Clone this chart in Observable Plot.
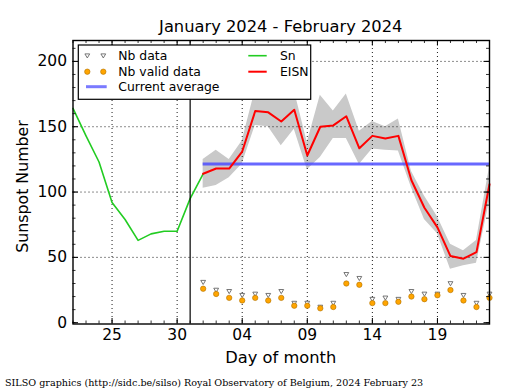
<!DOCTYPE html>
<html><head><meta charset="utf-8">
<script src="https://cdn.jsdelivr.net/npm/d3@7"></script>
<script src="https://cdn.jsdelivr.net/npm/@observablehq/plot@0.6"></script>
<style>html,body{margin:0;padding:0;background:#fff}</style>
</head><body><div id="chart"></div>
<script>
// ---- data ----
const snDates = ["2024-01-22","2024-01-23","2024-01-24","2024-01-25","2024-01-26","2024-01-27","2024-01-28","2024-01-29","2024-01-30","2024-01-31","2024-02-01"];
const snValues = [164,143,123,92,79,63,68,70,70,95,114];
const febDays = [1,2,3,4,5,6,7,8,9,10,11,12,13,14,15,16,17,18,19,20,21,22,23];
const eisnValues = [114,118,118,131,162,161,154,163,128,150,151,158,133.5,143,141,143,109,88,73,51,49,54,106];
const eisnUpper = [125,132,125,139,178,176,171,178,138,174,162,175,146.5,154,150,156,116,97,81,60,55,63,119];
const eisnLower = [103,105,111,121.5,151,150,135.5,148,117,126.5,141,141,121,133,132,131.5,103.5,79,68,41,43.5,45.5,93];
const nbData  = [31,25,24,21,22,21,24,15,15,12,15,37,34,18,19,18,24,22,22,30,21,15,22];
const nbValid = [26,22,19,17,19,17,19,13,13,11,12,30,29,15,15,16,20,18,21,25,17,12,19];
const currentAverage = 121.5;
const averageStart = "2024-02-01", averageEnd = "2024-02-23";
const separatorDate = "2024-01-31";
const xDomain = ["2024-01-22","2024-02-23"];
const xTickDates = ["2024-01-25","2024-01-30","2024-02-04","2024-02-09","2024-02-14","2024-02-19"];
const yTicks = [0,50,100,150,200];
const yGrid = [50,100,150,200];
const yDomain = [-1,216];

// ---- build ----
const parse = d3.utcParse("%Y-%m-%d");
const febDate = d => new Date(Date.UTC(2024,1,d));
const sn = snDates.map((d,i)=>({date:parse(d), v:snValues[i]}));
const eisn = febDays.map((d,i)=>({date:febDate(d), v:eisnValues[i], hi:eisnUpper[i], lo:eisnLower[i], nb:nbData[i], valid:nbValid[i]}));
const allDays = d3.utcDay.range(parse(xDomain[0]), d3.utcDay.offset(parse(xDomain[1]),1));
const minorY = d3.range(0, 216, 10);
const xt = xTickDates.map(parse);

const W=515, H=390, mL=72.5, mR=26, mT=40, mB=66.5;
const pw=W-mL-mR, ph=H-mT-mB;
const majorLen=5.5, minorLen=3;

const triDown = {draw(ctx, size){ const s=Math.sqrt(size)*0.62; ctx.moveTo(-s,-s*0.75); ctx.lineTo(s,-s*0.75); ctx.lineTo(0,s*0.95); ctx.closePath(); }};
const gridStyle = {stroke:"black", strokeOpacity:1, strokeWidth:0.9, strokeDasharray:"1,3"};

const plot = Plot.plot({
  width:W, height:H, marginLeft:mL, marginRight:mR, marginTop:mT, marginBottom:mB,
  style:{fontFamily:"DejaVu Sans", fontSize:"15.5px", background:"white", color:"black", overflow:"visible"},
  x:{type:"utc", domain:xDomain.map(parse)},
  y:{domain:yDomain},
  marks:[
    Plot.areaY(eisn, {x:"date", y1:"lo", y2:"hi", fill:"#c9c9c9"}),
    Plot.gridX(xt, gridStyle),
    Plot.gridY(yGrid, gridStyle),
    Plot.ruleY([currentAverage], {x1:parse(averageStart), x2:parse(averageEnd), stroke:"#4d4dff", strokeOpacity:0.85, strokeWidth:3}),
    Plot.lineY(sn, {x:"date", y:"v", stroke:"#22cc22", strokeWidth:1.6}),
    Plot.lineY(eisn, {x:"date", y:"v", stroke:"#ff0000", strokeWidth:2}),
    Plot.dot(eisn, {x:"date", y:"nb", symbol:triDown, r:2.2, fill:"white", stroke:"#666", strokeWidth:0.9}),
    Plot.dot(eisn, {x:"date", y:"valid", r:2.7, fill:"#ffa500", stroke:"#b07000", strokeWidth:0.6}),
    Plot.ruleX([parse(separatorDate)], {stroke:"black", strokeWidth:1.2}),
    // inward ticks
    Plot.tickX(allDays, {x:d=>d, insetTop:ph-minorLen, stroke:"black", strokeWidth:0.8}),
    Plot.tickX(allDays, {x:d=>d, insetBottom:ph-minorLen, stroke:"black", strokeWidth:0.8}),
    Plot.tickX(xt, {x:d=>d, insetTop:ph-majorLen, stroke:"black", strokeWidth:1}),
    Plot.tickX(xt, {x:d=>d, insetBottom:ph-majorLen, stroke:"black", strokeWidth:1}),
    Plot.tickY(minorY, {y:d=>d, insetRight:pw-minorLen, stroke:"black", strokeWidth:0.8}),
    Plot.tickY(minorY, {y:d=>d, insetLeft:pw-minorLen, stroke:"black", strokeWidth:0.8}),
    Plot.tickY(yTicks, {y:d=>d, insetRight:pw-majorLen, stroke:"black", strokeWidth:1}),
    Plot.tickY(yTicks, {y:d=>d, insetLeft:pw-majorLen, stroke:"black", strokeWidth:1}),
    Plot.axisX(xt, {tickSize:0, tickPadding:5, tickFormat:d3.utcFormat("%d"), label:null, fontSize:15.5}),
    Plot.axisY(yTicks, {tickSize:0, tickPadding:6, label:null, fontSize:15.5}),
    Plot.frame({stroke:"black", strokeWidth:1.4})
  ]
});
document.getElementById("chart").appendChild(plot);

// ---- texts & legend ----
const svg = d3.select(plot);
svg.append("text").attr("x", mL+pw/2).attr("y", 31.5).attr("text-anchor","middle")
  .style("font-family","DejaVu Sans").style("font-size","16.3px").text("January 2024 - February 2024");
svg.append("text").attr("x", mL+pw/2).attr("y", 362.5).attr("text-anchor","middle")
  .style("font-family","DejaVu Sans").style("font-size","16.3px").text("Day of month");
svg.append("text").attr("transform","translate(27.5,186.5) rotate(-90)").attr("text-anchor","middle")
  .style("font-family","DejaVu Sans").style("font-size","15.8px").text("Sunspot Number");
svg.append("text").attr("x",5).attr("y",385.5).attr("text-anchor","start")
  .style("font-family","DejaVu Serif").style("font-size","9.6px")
  .text("SILSO graphics (http://sidc.be/silso) Royal Observatory of Belgium, 2024 February 23");

const lg = svg.append("g").attr("text-anchor","start").style("font-family","DejaVu Sans").style("font-size","12.4px");
lg.append("rect").attr("x",78.3).attr("y",45).attr("width",232.4).attr("height",54.3)
  .attr("fill","white").attr("stroke","black").attr("stroke-width",1.2);
const rows=[55.7,71.7,86.7];
const tri = (cx,cy)=>{const s=2.4; return `M${cx-s},${cy-s*0.75}L${cx+s},${cy-s*0.75}L${cx},${cy+s*0.95}Z`;};
[87.3,103.3].forEach(cx=>{
  lg.append("path").attr("d",tri(cx,rows[0])).attr("fill","white").attr("stroke","#666").attr("stroke-width",0.9);
  lg.append("circle").attr("cx",cx).attr("cy",rows[1]).attr("r",2.7).attr("fill","#ffa500").attr("stroke","#b07000").attr("stroke-width",0.6);
});
lg.append("line").attr("x1",86).attr("x2",106.7).attr("y1",rows[2]).attr("y2",rows[2]).attr("stroke","#4d4dff").attr("stroke-opacity",0.75).attr("stroke-width",3);
lg.append("line").attr("x1",248.3).attr("x2",266.7).attr("y1",rows[0]).attr("y2",rows[0]).attr("stroke","#22cc22").attr("stroke-width",1.6);
lg.append("line").attr("x1",248.3).attr("x2",266.7).attr("y1",rows[1]).attr("y2",rows[1]).attr("stroke","#ff0000").attr("stroke-width",2);
const lt=[["Nb data",118.3,rows[0]],["Nb valid data",118.3,rows[1]],["Current average",118.3,rows[2]],["Sn",280,rows[0]],["EISN",280,rows[1]]];
lt.forEach(([t,x,y])=>lg.append("text").attr("x",x).attr("y",y).attr("dy","0.36em").attr("text-anchor","start").text(t));
</script>
</body></html>
